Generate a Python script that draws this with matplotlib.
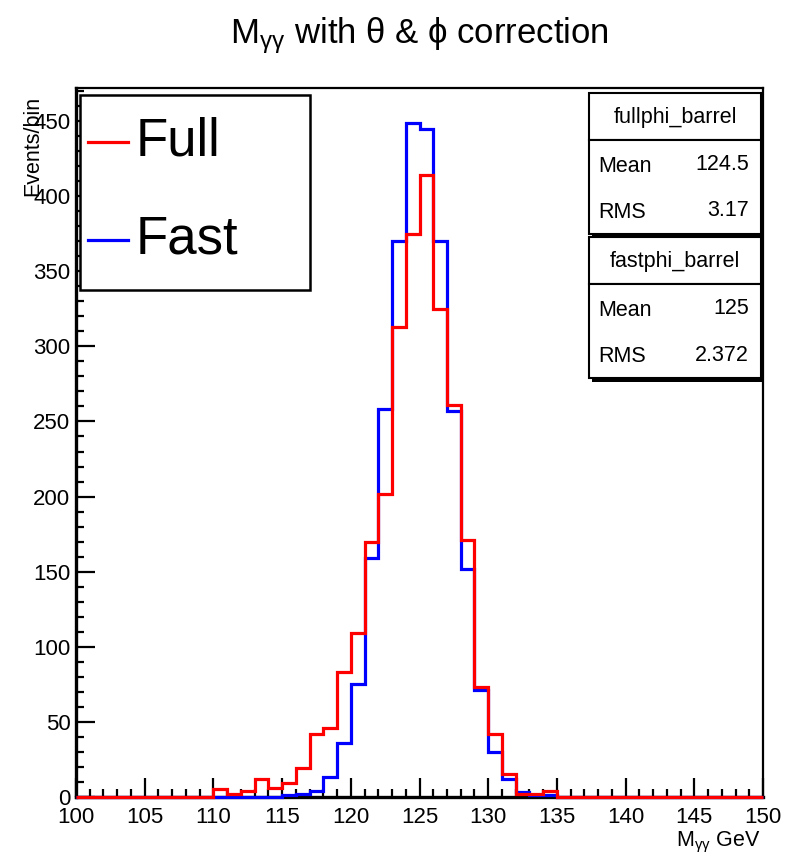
import numpy as np
import matplotlib
matplotlib.use("Agg")
import matplotlib.pyplot as plt
from matplotlib.ticker import MultipleLocator
from matplotlib.patches import Rectangle
from matplotlib.lines import Line2D

plt.rcParams['font.family'] = ['Liberation Sans Narrow', 'Liberation Sans', 'DejaVu Sans']
plt.rcParams['mathtext.fontset'] = 'custom'
plt.rcParams['mathtext.rm'] = 'Liberation Sans'
plt.rcParams['mathtext.it'] = 'Liberation Sans:italic'

# 1 GeV bins from 100 to 150
edges = np.arange(100, 151, 1)

# counts per bin
full_counts = [0, 0, 0, 0, 0, 0, 0, 0, 0, 0,
               5, 2, 4, 12, 6, 9, 19, 42, 46, 83,
               109, 170, 202, 313, 375, 414, 325, 261, 171, 73,
               42, 15, 2, 2, 4, 0, 0, 0, 0, 0,
               0, 0, 0, 0, 0, 0, 0, 0, 0, 0]
fast_counts = [0, 0, 0, 0, 0, 0, 0, 0, 0, 0,
               0, 0, 0, 0, 0, 1, 2, 4, 13, 36,
               75, 159, 258, 370, 449, 445, 370, 257, 152, 71,
               30, 12, 3, 1, 1, 0, 0, 0, 0, 0,
               0, 0, 0, 0, 0, 0, 0, 0, 0, 0]

labels = ['Full', 'Fast']
colors = ['#ff0000', '#0000ff']
stat_names = ['fullphi_barrel', 'fastphi_barrel']
stat_mean = ['124.5', '125']
stat_rms = ['3.17', '2.372']

W, H = 799, 866
fig = plt.figure(figsize=(W / 100, H / 100), dpi=100)
ax = fig.add_axes([76 / W, 1 - 797 / H, (763 - 76) / W, (797 - 88) / H])

ax.stairs(fast_counts, edges, color=colors[1], lw=2.3, clip_on=False, zorder=3)
ax.stairs(full_counts, edges, color=colors[0], lw=2.3, clip_on=False, zorder=4)

ax.set_xlim(100, 150)
ax.set_ylim(0, 472)

ax.xaxis.set_major_locator(MultipleLocator(5))
ax.xaxis.set_minor_locator(MultipleLocator(1))
ax.yaxis.set_major_locator(MultipleLocator(50))
ax.yaxis.set_minor_locator(MultipleLocator(10))
ax.tick_params(which='both', direction='in', width=1.6, top=False, right=False,
               labelsize=16)
ax.tick_params(which='major', length=14)
ax.tick_params(which='minor', length=6)
ax.tick_params(axis='x', pad=7)
ax.tick_params(axis='y', pad=4)
for s in ['left', 'bottom']:
    ax.spines[s].set_linewidth(2.4)
for s in ['top', 'right']:
    ax.spines[s].set_linewidth(1.6)

fig.text(419 / W, 1 - 36 / H,
         r'M$_{\mathrm{\gamma\gamma}}$ with $\mathrm{\theta}$ & $\mathrm{\phi}$ correction',
         ha='center', va='center', fontsize=25)
fig.text(33 / W, 1 - 96 / H, 'Events/bin', rotation=90, ha='center', va='top',
         fontsize=15.5)
fig.text(761 / W, 1 - 842 / H, r'M$_{\mathrm{\gamma\gamma}}$ GeV', ha='right', va='center',
         fontsize=15.5)

# legend box, drawn by hand like the ROOT TLegend
fig.add_artist(Rectangle((80 / W, 1 - 290 / H), 230 / W, 195 / H,
                         transform=fig.transFigure, facecolor='white',
                         edgecolor='black', lw=1.8, zorder=5))
row_y = [142, 240]
for i in range(2):
    yy = 1 - row_y[i] / H
    fig.add_artist(Line2D([88 / W, 128 / W], [yy, yy], transform=fig.transFigure,
                          color=colors[i], lw=2.3, zorder=6))
    fig.text(136 / W, yy, labels[i], ha='left', va='center', fontsize=38, zorder=6)

# stats boxes
def px_box(x0, y0, x1, y1, lw=1.5):
    fig.add_artist(Rectangle((x0 / W, 1 - y1 / H), (x1 - x0) / W, (y1 - y0) / H,
                             transform=fig.transFigure, fill=True, facecolor='white',
                             edgecolor='black', lw=lw, zorder=5))

tops = [93, 237]
for i in range(2):
    t = tops[i]
    # shadow
    fig.add_artist(Rectangle((592 / W, 1 - (t + 145) / H), 171 / W, 143 / H,
                             transform=fig.transFigure, facecolor='black',
                             edgecolor='none', zorder=4.9))
    px_box(589, t, 761, t + 47)
    px_box(589, t + 47, 761, t + 141)
    fig.text(675 / W, 1 - (t + 25) / H, stat_names[i], ha='center', va='center',
             fontsize=15.5, zorder=6)
    fig.text(598 / W, 1 - (t + 74) / H, 'Mean', ha='left', va='center', fontsize=15.5, zorder=6)
    fig.text(749 / W, 1 - (t + 72) / H, stat_mean[i], ha='right', va='center', fontsize=15.5, zorder=6)
    fig.text(598 / W, 1 - (t + 120) / H, 'RMS', ha='left', va='center', fontsize=15.5, zorder=6)
    fig.text(749 / W, 1 - (t + 118) / H, stat_rms[i], ha='right', va='center', fontsize=15.5, zorder=6)

fig.savefig('out.png', dpi=100, facecolor='white')
